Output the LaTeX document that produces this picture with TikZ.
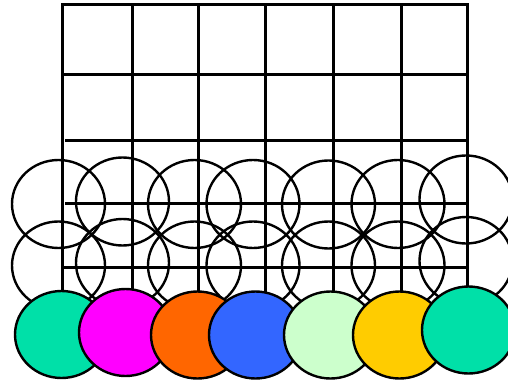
\documentclass[tikz,border=0pt]{standalone}
\definecolor{cgreen}{RGB}{0,224,168}
\definecolor{cmag}{RGB}{255,0,255}
\definecolor{corange}{RGB}{255,102,0}
\definecolor{cblue}{RGB}{51,102,255}
\definecolor{clight}{RGB}{204,255,204}
\definecolor{cyellow}{RGB}{255,204,0}
\begin{document}
\begin{tikzpicture}[x=1pt,y=-1pt,
  gridline/.style={line width=3pt,black},
  ring/.style={line width=2.4pt,black},
  disc/.style={line width=2.4pt,black}]
\useasboundingbox (0,0) rectangle (508,382);
% grid
\draw[gridline] (62,290) -- (62,5) -- (467,5) -- (467,287);
\foreach \x in {132,198,265,333,401}
  \draw[gridline] (\x,5) -- (\x,292);
\draw[gridline] (63,75) -- (466,75);
\draw[gridline] (65,141) -- (467,141);
\draw[gridline] (65,203) -- (467,203);
\draw[gridline] (63,267) -- (466,267);
% outline rings, row 1
\foreach \cx/\cy in {58.5/204,122.5/201.5,194.5/204,253/204,328.5/204.5,398/204,466/199.5}
  \draw[ring] (\cx,\cy) ellipse [x radius=46.5, y radius=44];
% outline rings, row 2
\foreach \cx/\cy in {58.5/265.5,122.5/263,194.5/265.5,253/265.5,328.5/265.5,398/265.5,466/261}
  \draw[ring] (\cx,\cy) ellipse [x radius=46.5, y radius=44];
% coloured discs
\foreach \cx/\cy/\c in {61.5/334.5/cgreen,125.5/332.5/cmag,197.5/335/corange,255.5/335/cblue,330.5/335/clight,399.5/335/cyellow,468.5/330/cgreen}
  \draw[disc,fill=\c] (\cx,\cy) ellipse [x radius=46.5, y radius=43.5];
\end{tikzpicture}
\end{document}
